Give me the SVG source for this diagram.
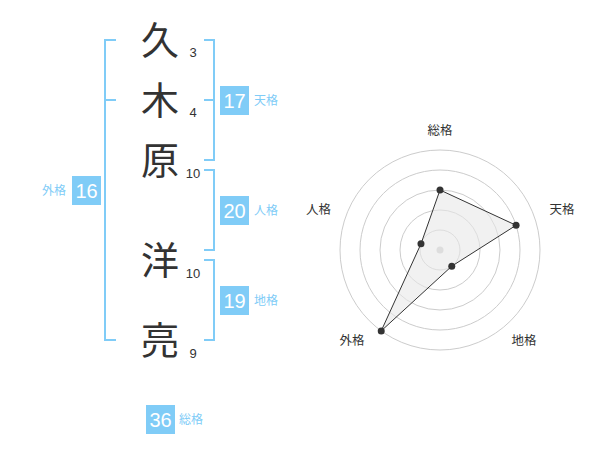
<svg xmlns="http://www.w3.org/2000/svg" width="600" height="470" viewBox="0 0 600 470">
<style>
.br{fill:none;stroke:#80ccf7;stroke-width:2}
.box{fill:#80ccf7}
.bn{font-family:"Liberation Sans",Arial,sans-serif;font-size:20px;fill:#fff;text-anchor:middle}
.lb{font-family:"Noto Sans CJK JP","Noto Sans",sans-serif;font-size:12px;fill:#80ccf7}
.kj{font-family:"Noto Sans CJK JP",sans-serif;font-size:38px;fill:#333;text-anchor:middle}
.sn{font-family:"Liberation Sans",Arial,sans-serif;font-size:13px;fill:#333;text-anchor:middle}
.ring{fill:none;stroke:#ccc;stroke-width:1}
.rl{font-family:"Noto Sans CJK JP","Noto Sans",sans-serif;font-size:12.5px;fill:#333;text-anchor:middle}
.dot{fill:#333}
</style>
<rect width="600" height="470" fill="#fff"/>
<g id="connectors">
<path class="br" d="M116,40H105V340H116M105,100H116"/>
<path class="br" d="M204,40H214V160H204M214,100H204"/>
<path class="br" d="M204,170H214V250H204"/>
<path class="br" d="M204,260H214V340H204"/>
</g>
<g id="name">
<g id="c1"><text class="kj" x="160" y="54">久</text><text class="sn" x="193" y="57">3</text></g>
<g id="c2"><text class="kj" x="160" y="114">木</text><text class="sn" x="193" y="117">4</text></g>
<g id="c3"><text class="kj" x="160" y="174">原</text><text class="sn" x="193" y="178">10</text></g>
<g id="c4"><text class="kj" x="160" y="274">洋</text><text class="sn" x="193" y="278">10</text></g>
<g id="c5"><text class="kj" x="160" y="354">亮</text><text class="sn" x="193" y="358">9</text></g>
</g>
<g id="tenkaku"><rect class="box" x="220" y="86" width="29" height="29"/><text class="bn" x="234.5" y="107.7">17</text><text class="lb" x="254" y="104.5">天格</text></g>
<g id="jinkaku"><rect class="box" x="220" y="196" width="29" height="29"/><text class="bn" x="234.5" y="217.7">20</text><text class="lb" x="254" y="214.5">人格</text></g>
<g id="chikaku"><rect class="box" x="220" y="286" width="29" height="29"/><text class="bn" x="234.5" y="307.7">19</text><text class="lb" x="254" y="304.5">地格</text></g>
<g id="gaikaku"><rect class="box" x="72" y="176" width="29" height="29"/><text class="bn" x="86.5" y="197.7">16</text><text class="lb" x="66" y="194.5" text-anchor="end">外格</text></g>
<g id="soukaku"><rect class="box" x="146" y="405" width="29" height="29"/><text class="bn" x="160.5" y="426.7">36</text><text class="lb" x="179" y="423.5">総格</text></g>
<g id="radar">
<circle class="ring" cx="440" cy="250" r="20"/>
<circle class="ring" cx="440" cy="250" r="40"/>
<circle class="ring" cx="440" cy="250" r="60"/>
<circle class="ring" cx="440" cy="250" r="80"/>
<circle class="ring" cx="440" cy="250" r="100"/>
<circle cx="440" cy="250" r="3.5" fill="#ccc"/>
<polygon points="440,190 516.08,225.28 451.76,266.18 381.22,330.9 420.98,243.82" fill="#e8e8e8" fill-opacity="0.6" stroke="#333" stroke-width="1"/>
<circle class="dot" cx="440" cy="190" r="3.5"/>
<circle class="dot" cx="516.08" cy="225.28" r="3.5"/>
<circle class="dot" cx="451.76" cy="266.18" r="3.5"/>
<circle class="dot" cx="381.22" cy="330.9" r="3.5"/>
<circle class="dot" cx="420.98" cy="243.82" r="3.5"/>
<text class="rl" x="440" y="135">総格</text>
<text class="rl" x="562" y="213.5">天格</text>
<text class="rl" x="524" y="345">地格</text>
<text class="rl" x="352" y="345">外格</text>
<text class="rl" x="318.5" y="213.5">人格</text>
</g>
</svg>
